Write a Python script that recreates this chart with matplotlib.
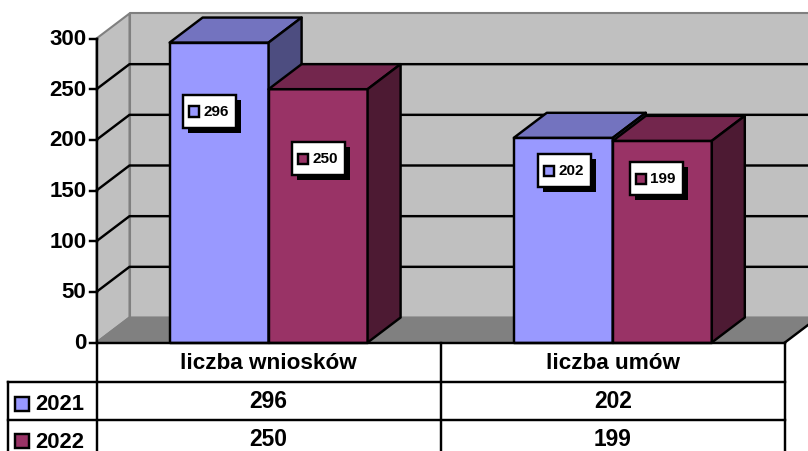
import matplotlib
matplotlib.use('Agg')
import matplotlib.pyplot as plt
from matplotlib.patches import Polygon, Rectangle

plt.rcParams['font.family'] = ['Liberation Sans', 'DejaVu Sans']

# Data
categories = ['liczba wniosków', 'liczba umów']
series_names = ['2021', '2022']
values_2021 = [296, 202]
values_2022 = [250, 199]
y_ticks = [0, 50, 100, 150, 200, 250, 300]

# Colours
front_cols = ['#9999FF', '#993366']
top_cols = ['#7373BF', '#73264D']
side_cols = ['#4D4D80', '#4D1A33']
WALL = '#C0C0C0'
FLOOR = '#808080'

# Pixel layout of the reference
X0, CAT_W = 96.5, 344.2
Y0, PX_PER_UNIT = 342, 304 / 300
W, H = 808, 452
BAR_W = 99 / CAT_W              # bar width in category units
DX = 33 / CAT_W                 # 3D depth, x
DY = 25 / PX_PER_UNIT           # 3D depth, y
LW = 1.75


def px_x(x):
    return (x - X0) / CAT_W


def px_y(y):
    return (Y0 - y) / PX_PER_UNIT


def poly(ax, pts, color, edge='black', z=2, lw=LW):
    ax.add_patch(Polygon(pts, closed=True, facecolor=color, edgecolor=edge,
                         linewidth=lw, zorder=z, joinstyle='round'))


fig = plt.figure(figsize=(W / 100, H / 100), dpi=100)
ax = fig.add_axes([0, 0, 1, 1])
ax.set_xlim(px_x(0), px_x(W))
ax.set_ylim(px_y(H - 1.5), px_y(-1.5))
ax.axis('off')

n = len(categories)
top = y_ticks[-1]

# back wall, side wall, floor
poly(ax, [(DX, DY), (n + DX, DY), (n + DX, DY + top), (DX, DY + top)], WALL, FLOOR, 1, 1.5)
poly(ax, [(0, 0), (DX, DY), (DX, DY + top), (0, top)], WALL, FLOOR, 1, 1.5)
poly(ax, [(0, 0), (n, 0), (n + DX, DY), (DX, DY)], FLOOR, FLOOR, 1, 1.5)

# gridlines on the walls
for t in y_ticks[1:-1]:
    ax.plot([0, DX, n + DX], [t, t + DY, t + DY], color='black', lw=LW, zorder=1.5)

# white wedge right of the floor
ax.add_patch(Polygon([(n, 0), (n + DX, DY), (n + DX, 0)], closed=True,
                     facecolor='white', edgecolor='none', zorder=1.2))
ax.plot([n, n + DX], [0, DY], color='black', lw=LW, zorder=1.5)

# bars
for s, vals in enumerate([values_2021, values_2022]):
    for c, v in enumerate(vals):
        x0 = c + 0.5 - BAR_W + s * BAR_W
        x1 = x0 + BAR_W
        z = 2 + c + s * 0.1
        poly(ax, [(x0, 0), (x1, 0), (x1, v), (x0, v)], front_cols[s], z=z)
        poly(ax, [(x0, v), (x1, v), (x1 + DX, v + DY), (x0 + DX, v + DY)], top_cols[s], z=z)
        poly(ax, [(x1, 0), (x1 + DX, DY), (x1 + DX, v + DY), (x1, v)], side_cols[s], z=z)

# data label boxes: left and top pixel of each box
label_boxes = [[(183, 94), (538, 153)], [(292, 141), (630, 161)]]
for s, vals in enumerate([values_2021, values_2022]):
    for c, v in enumerate(vals):
        bx, by = label_boxes[s][c]
        ax.add_patch(Rectangle((px_x(bx + 5), px_y(by + 38)), 53 / CAT_W, 33 / PX_PER_UNIT,
                               facecolor='black', edgecolor='none', zorder=10))
        ax.add_patch(Rectangle((px_x(bx), px_y(by + 33)), 53 / CAT_W, 33 / PX_PER_UNIT,
                               facecolor='white', edgecolor='black', lw=LW, zorder=11))
        ax.add_patch(Rectangle((px_x(bx + 6), px_y(by + 22)), 10 / CAT_W, 10 / PX_PER_UNIT,
                               facecolor=front_cols[s], edgecolor='black', lw=LW, zorder=12))
        ax.text(px_x(bx + 33), px_y(by + 17), str(v), ha='center', va='center',
                fontsize=11, fontweight='bold', zorder=12)

# y axis and ticks
ax.plot([0, 0], [px_y(H + 2), top], color='black', lw=LW, zorder=20)
for t in y_ticks:
    ax.plot([px_x(90), 0], [t, t], color='black', lw=LW, zorder=20)
    ax.text(px_x(86.5), t, str(t), ha='right', va='center', fontsize=16, fontweight='bold')

# data table
row_lines = [381, 419]
ax.plot([0, n], [0, 0], color='black', lw=LW, zorder=20)
for r in row_lines:
    ax.plot([px_x(8), n], [px_y(r), px_y(r)], color='black', lw=LW, zorder=20)
ax.plot([px_x(8), px_x(8)], [px_y(381), px_y(H + 2)], color='black', lw=LW, zorder=20)
for c in range(1, n + 1):
    ax.plot([c, c], [0, px_y(H + 2)], color='black', lw=LW, zorder=20)

row_text_y = [400, 438]
for c, name in enumerate(categories):
    ax.text(c + 0.5, px_y(362), name, ha='center', va='center',
            fontsize=16.2, fontweight='bold')
for s, vals in enumerate([values_2021, values_2022]):
    ty = row_text_y[s]
    ax.add_patch(Rectangle((px_x(15), px_y(ty + 10 - s)), 14 / CAT_W, 14 / PX_PER_UNIT,
                           facecolor=front_cols[s], edgecolor='black', lw=LW, zorder=20))
    ax.text(px_x(35), px_y(ty + 3), series_names[s], ha='left', va='center',
            fontsize=15.8, fontweight='bold')
    for c, v in enumerate(vals):
        ax.text(c + 0.5, px_y(ty), str(v), ha='center', va='center',
                fontsize=16.4, fontweight='bold')

fig.savefig('out.png', dpi=100, facecolor='white')
